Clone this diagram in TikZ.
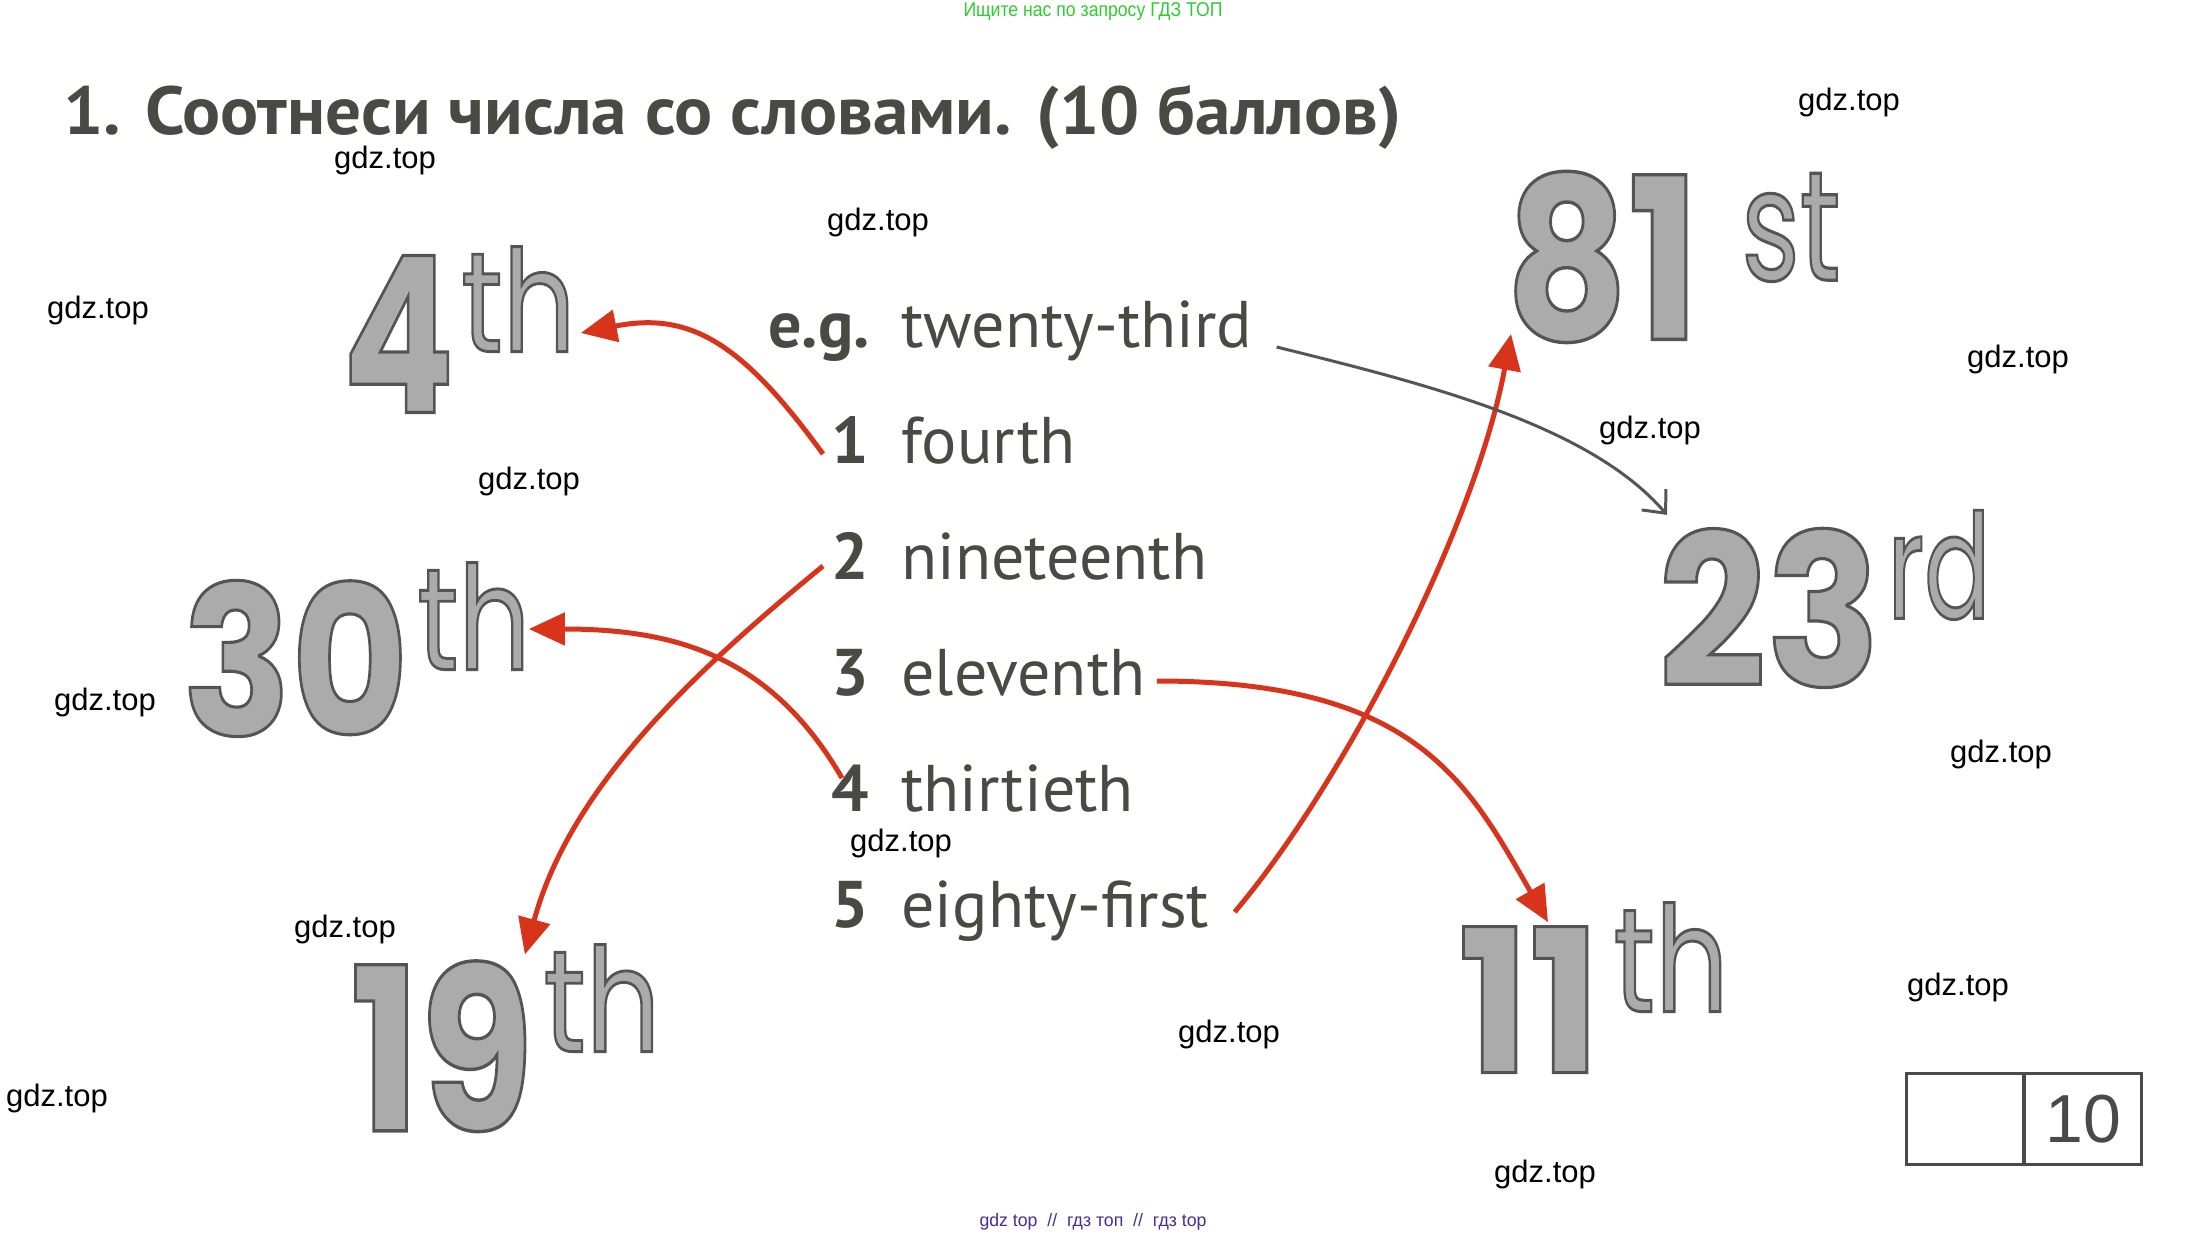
\documentclass[tikz,border=0pt]{standalone}
\usepackage{fontspec}
\usepackage{graphicx}
\usetikzlibrary{arrows.meta,calc}
\setmainfont{PT Sans}
\newfontfamily\wmfont{Liberation Sans}
\newfontfamily\digfont{Poppins Bold}[FakeBold=1.5]
\newfontfamily\supfont{Poppins}[FakeBold=2]
\definecolor{inkgrey}{HTML}{4A4A45}
\definecolor{redarrow}{HTML}{D8341C}
\definecolor{greyline}{HTML}{555555}
\definecolor{topgreen}{HTML}{2ECC2E}
\definecolor{botpurple}{HTML}{4B2B8C}
\definecolor{boxgrey}{HTML}{4A4A4A}
\newcommand\halftone[1]{\special{pdf:bc [0.67 0.67 0.67] [0.33 0.33 0.33]}#1\special{pdf:ec}}
\begin{document}
\begin{tikzpicture}[x=0.5pt,y=-0.5pt,
  wm/.style={font=\wmfont\fontsize{15.5}{18}\selectfont, inner sep=0pt, text=black},
  word/.style={anchor=base west, inner sep=0pt, text=inkgrey, font=\fontsize{33}{40}\selectfont},
  num/.style={anchor=base west, inner sep=0pt, text=inkgrey, font=\bfseries\fontsize{33}{40}\selectfont},
  ordnum/.style={anchor=south west, inner sep=0pt},
  redarr/.style={draw=redarrow, line width=2.5pt, -{Triangle[length=18pt,width=16pt]}},
  greyarr/.style={draw=greyline, line width=1.5pt, -{Straight Barb[length=9pt,width=16pt]}},
  cell/.style={draw=boxgrey, line width=1.5pt, minimum width=58.5pt, minimum height=45.5pt, inner sep=0pt, anchor=north west, text=boxgrey, font=\wmfont\fontsize{34}{40}\selectfont}
]
\useasboundingbox (0,0) rectangle (2188,1236);

% header / footer notes
\node[text=topgreen, font=\wmfont\fontsize{10}{12}\selectfont, inner sep=0pt, anchor=base] (topnote) at (1093,17) {\resizebox{129.5pt}{\height}{Ищите нас по запросу ГДЗ ТОП}};
\node[text=botpurple, font=\wmfont\fontsize{9}{11}\selectfont, inner sep=0pt, anchor=base] (botnote) at (1093,1226) {\resizebox{113.5pt}{\height}{gdz top\ \ //\ \ гдз топ\ \ //\ \ гдз top}};

% title
\node[anchor=base west, inner sep=0pt, text=inkgrey, font=\bfseries\fontsize{34}{40}\selectfont] (title) at (63,134) {\resizebox{669pt}{\height}{1. Соотнеси числа со словами. (10 баллов)}};

% word list
\node[num] (n0) at (768,347) {e.g.};
\node[word] (w0) at (901,347) {twenty-third};
\node[num] (n1) at (831,463) {1};
\node[word] (w1) at (901,463) {fourth};
\node[num] (n2) at (831,579) {2};
\node[word] (w2) at (901,579) {nineteenth};
\node[num] (n3) at (831,695) {3};
\node[word] (w3) at (901,695) {eleventh};
\node[num] (n4) at (831,811) {4};
\node[word] (w4) at (901,811) {thirtieth};
\node[num] (n5) at (831,927) {5};
\node[word] (w5) at (901,927) {eighty-first};

% ordinal pictures
\node[ordnum] (d4) at (342,413) {\resizebox{56pt}{78.5pt}{\digfont\halftone{4}}};
\node[ordnum] (s4) at (461,352) {\resizebox{57pt}{52.5pt}{\supfont\halftone{th}}};
\node[ordnum] (d81) at (1505,343) {\resizebox{97pt}{84pt}{\digfont\halftone{81}}};
\node[ordnum] (s81) at (1741,282) {\resizebox{49.5pt}{53.5pt}{\supfont\halftone{st}}};
\node[ordnum] (d30) at (182,737) {\resizebox{113pt}{77.5pt}{\digfont\halftone{30}}};
\node[ordnum] (s30) at (417,670) {\resizebox{56.5pt}{53.5pt}{\supfont\halftone{th}}};
\node[ordnum] (d23) at (1658,688) {\resizebox{111pt}{79pt}{\digfont\halftone{23}}};
\node[ordnum] (s23) at (1887,620) {\resizebox{51.5pt}{54pt}{\supfont\halftone{rd}}};
\node[ordnum] (d19) at (350,1132) {\resizebox{91.5pt}{85pt}{\digfont\halftone{19}}};
\node[ordnum] (s19) at (543,1052) {\resizebox{58.5pt}{53.5pt}{\supfont\halftone{th}}};
\node[ordnum] (d11) at (1458,1073) {\resizebox{71pt}{73pt}{\digfont\halftone{11}}};
\node[ordnum] (s11) at (1613,1012) {\resizebox{57.5pt}{54.5pt}{\supfont\halftone{th}}};

% score box
\node[cell] (cellA) at (1905,1072) {};
\node[cell] (cellB) at (2023,1072) {10};

% connectors
\coordinate (a1s) at ($(n1.base west)+(-8,-9)$);
\coordinate (a1e) at ($(s4.south east)+(5,-19)$);
\draw[redarr] (a1s) .. controls ($(a1s)+(-80,-110)$) and ($(a1e)+(110,-22)$) .. (a1e);

\coordinate (a2s) at ($(n2.base west)+(-8,-13)$);
\coordinate (a2e) at ($(d19.north east)+(-9,-6)$);
\draw[redarr] (a2s) .. controls ($(a2s)+(-123,101)$) and ($(a2e)+(46,-170)$) .. (a2e);

\coordinate (a3s) at ($(w3.base east)+(11,-14)$);
\coordinate (a3e) at ($(d11.north west)+(90,-4)$);
\draw[redarr] (a3s) .. controls ($(a3s)+(260,0)$) and ($(a3e)+(-80,-139)$) .. (a3e);

\coordinate (a4s) at ($(n4.base west)+(11,-33)$);
\coordinate (a4e) at ($(s30.south east)+(-2,-41)$);
\draw[redarr] (a4s) .. controls ($(a4s)+(-70,-120)$) and ($(a4e)+(150,0)$) .. (a4e);

\coordinate (a5s) at ($(w5.base east)+(25,-15)$);
\coordinate (a5e) at ($(d81.south west)+(6,-9)$);
\draw[redarr] (a5s) .. controls ($(a5s)+(110,-130)$) and ($(a5e)+(-35,190)$) .. (a5e);

\coordinate (a6s) at ($(w0.base east)+(24,0)$);
\coordinate (a6e) at ($(d23.north west)+(9,-13)$);
\draw[greyarr] (a6s) .. controls ($(a6s)+(145,36)$) and ($(a6e)+(-78,-91)$) .. (a6e);

% watermarks
\node[wm] (wm1) at (1849,102) {gdz.top};
\node[wm] (wm2) at (385,160) {gdz.top};
\node[wm] (wm3) at (878,222) {gdz.top};
\node[wm] (wm4) at (98,310) {gdz.top};
\node[wm] (wm5) at (2018,359) {gdz.top};
\node[wm] (wm6) at (1650,430) {gdz.top};
\node[wm] (wm7) at (529,481) {gdz.top};
\node[wm] (wm8) at (105,702) {gdz.top};
\node[wm] (wm9) at (2001,754) {gdz.top};
\node[wm] (wm10) at (901,843) {gdz.top};
\node[wm] (wm11) at (345,929) {gdz.top};
\node[wm] (wm12) at (1958,987) {gdz.top};
\node[wm] (wm13) at (1229,1034) {gdz.top};
\node[wm] (wm14) at (57,1098) {gdz.top};
\node[wm] (wm15) at (1545,1174) {gdz.top};
\end{tikzpicture}
\end{document}
